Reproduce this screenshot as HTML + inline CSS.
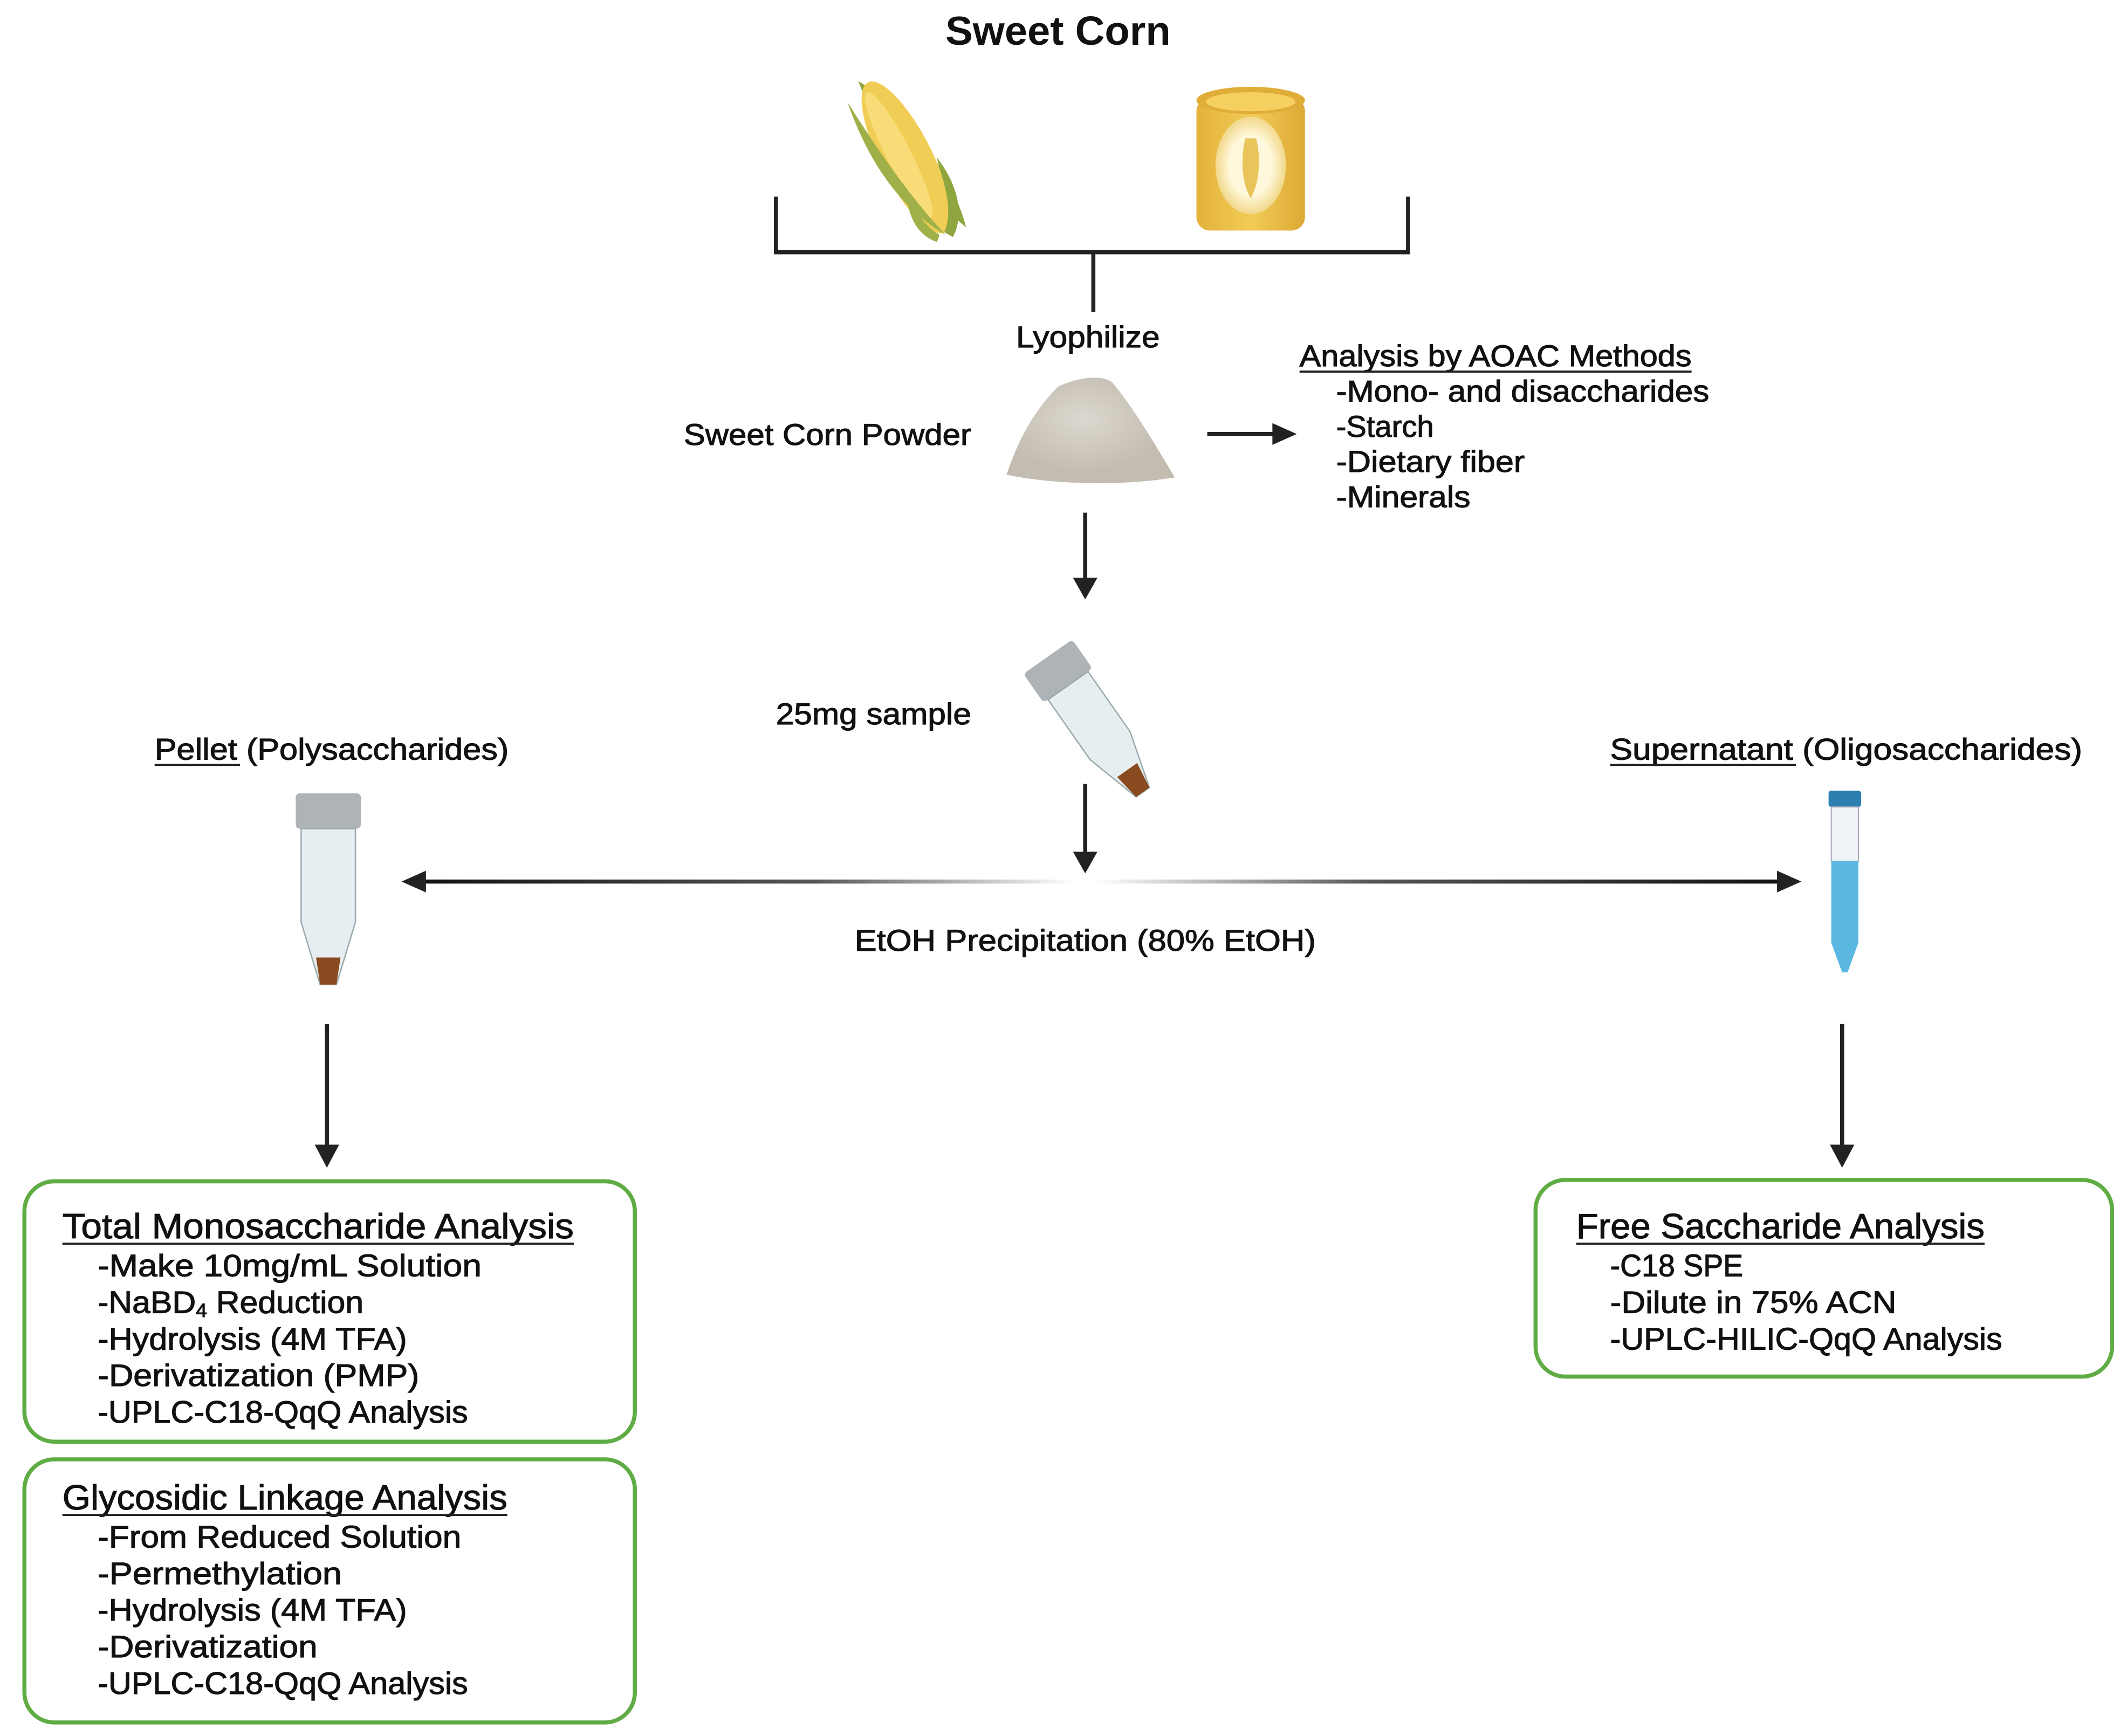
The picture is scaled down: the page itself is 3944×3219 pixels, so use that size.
<!DOCTYPE html>
<html><head><meta charset="utf-8"><style>
html,body{margin:0;padding:0;background:#fff;}
svg{display:block;}
text{font-family:"Liberation Sans",sans-serif;fill:#111;stroke:#111;stroke-width:0.45;}
</style></head><body>
<svg width="3944" height="3219" viewBox="0 0 1568 1280" preserveAspectRatio="none" xmlns="http://www.w3.org/2000/svg">
<defs>
<linearGradient id="gl" x1="0" x2="1" y1="0" y2="0"><stop offset="0" stop-color="#111"/><stop offset="0.6" stop-color="#555"/><stop offset="1" stop-color="#fff"/></linearGradient>
<linearGradient id="gr" x1="0" x2="1" y1="0" y2="0"><stop offset="0" stop-color="#fff"/><stop offset="0.4" stop-color="#555"/><stop offset="1" stop-color="#111"/></linearGradient>
<linearGradient id="can" x1="0" x2="1"><stop offset="0" stop-color="#e3b23a"/><stop offset="0.5" stop-color="#f2cb55"/><stop offset="1" stop-color="#dca935"/></linearGradient>
<radialGradient id="lab"><stop offset="0.6" stop-color="#fff8dc"/><stop offset="1" stop-color="#f1d88a"/></radialGradient>
<radialGradient id="pw" cx="0.45" cy="0.4"><stop offset="0" stop-color="#ddd8cf"/><stop offset="1" stop-color="#c2bcb1"/></radialGradient>
</defs>

<text x="780" y="33" font-size="30" font-weight="bold" text-anchor="middle" textLength="166" lengthAdjust="spacingAndGlyphs" style="stroke-width:0">Sweet Corn</text>

<!-- corn -->
<g transform="translate(668,116) rotate(-27)">
<path d="M-6,-66 C12,-40 26,20 16,66 C4,40 -12,-10 -6,-66Z" fill="#8fa640"/>
<ellipse cx="0" cy="0" rx="19" ry="62" fill="#f0cd55"/>
<ellipse cx="-4" cy="-4" rx="9" ry="52" fill="#f7dc78"/>
<path d="M-20,-56 C-28,0 -16,40 0,64 C-10,30 -16,-10 -20,-56Z" fill="#9fb048"/>
<path d="M-10,20 C-20,40 -18,56 -8,66 L-4,62 C-12,50 -12,36 -10,20Z" fill="#9fb048"/>
<path d="M20,10 C26,40 16,60 4,68 L0,62 C14,50 16,30 20,10Z" fill="#8fa640"/>
</g>
<!-- can -->
<rect x="882" y="72" width="80" height="98" rx="10" fill="url(#can)"/>
<ellipse cx="922" cy="74" rx="40" ry="10" fill="#e0ad38"/>
<ellipse cx="922" cy="75" rx="33" ry="7" fill="#f5d060"/>
<ellipse cx="922" cy="122" rx="26" ry="36" fill="url(#lab)"/>
<path d="M918,102 C914,120 916,136 922,146 C928,136 930,118 926,102Z" fill="#e8c45a"/>

<!-- bracket -->
<path d="M572,145 V186 H1038 V145 M806,186 V230" fill="none" stroke="#222" stroke-width="3"/>
<text x="802" y="256" font-size="22" text-anchor="middle" textLength="106" lengthAdjust="spacingAndGlyphs">Lyophilize</text>

<!-- powder -->
<path d="M742,350 C752,320 765,300 780,285 C795,278 812,276 820,282 C835,300 850,325 866,352 C830,358 780,358 742,350Z" fill="url(#pw)"/>
<text x="716" y="328" font-size="22" text-anchor="end" textLength="212" lengthAdjust="spacingAndGlyphs">Sweet Corn Powder</text>
<line x1="890" y1="320" x2="940" y2="320" stroke="#222" stroke-width="3"/>
<path d="M938,312 L956,320 L938,328Z" fill="#222"/>

<text x="958" y="270" font-size="22" textLength="289" lengthAdjust="spacingAndGlyphs">Analysis by AOAC Methods</text>
<line x1="958" y1="274" x2="1247" y2="274" stroke="#222" stroke-width="1.5"/>
<text x="985" y="296" font-size="22" textLength="275" lengthAdjust="spacingAndGlyphs">-Mono- and disaccharides</text>
<text x="985" y="322" font-size="22" textLength="72" lengthAdjust="spacingAndGlyphs">-Starch</text>
<text x="985" y="348" font-size="22" textLength="139" lengthAdjust="spacingAndGlyphs">-Dietary fiber</text>
<text x="985" y="374" font-size="22" textLength="99" lengthAdjust="spacingAndGlyphs">-Minerals</text>

<line x1="800" y1="378" x2="800" y2="428" stroke="#222" stroke-width="3"/>
<path d="M791,426 L800,442 L809,426Z" fill="#222"/>

<text x="572" y="534" font-size="22" textLength="144" lengthAdjust="spacingAndGlyphs">25mg sample</text>
<!-- tilted tube -->
<g transform="translate(808,535) rotate(-35)">
<rect x="-22" y="-62" width="44" height="26" rx="3" fill="#aeb3b8"/>
<path d="M-18,-36 H18 V18 L6,60 H-6 L-18,18Z" fill="#e6eef2" stroke="#9aa" stroke-width="1"/>
<path d="M-9,40 L9,40 L6,60 H-6Z" fill="#8a4a20"/>
</g>

<line x1="800" y1="578" x2="800" y2="630" stroke="#222" stroke-width="3"/>
<path d="M791,628 L800,644 L809,628Z" fill="#222"/>

<!-- horizontal double arrow -->
<rect x="312" y="648.5" width="480" height="3" fill="url(#gl)"/>
<rect x="808" y="648.5" width="506" height="3" fill="url(#gr)"/>
<path d="M314,642 L296,650 L314,658Z" fill="#222"/>
<path d="M1310,642 L1328,650 L1310,658Z" fill="#222"/>
<text x="800" y="701" font-size="22" text-anchor="middle" textLength="340" lengthAdjust="spacingAndGlyphs">EtOH Precipitation (80% EtOH)</text>

<text x="114" y="560" font-size="22" textLength="261" lengthAdjust="spacingAndGlyphs">Pellet (Polysaccharides)</text>
<line x1="114" y1="564" x2="177" y2="564" stroke="#222" stroke-width="1.5"/>
<text x="1187" y="560" font-size="22" textLength="348" lengthAdjust="spacingAndGlyphs">Supernatant (Oligosaccharides)</text>
<line x1="1187" y1="564" x2="1324" y2="564" stroke="#222" stroke-width="1.5"/>

<!-- left tube -->
<rect x="218" y="585" width="48" height="26" rx="3" fill="#aeb3b8"/>
<path d="M222,611 H262 V680 L248,726 H236 L222,680Z" fill="#e6eef2" stroke="#9aa" stroke-width="1"/>
<path d="M233,706 H251 L248,726 H236Z" fill="#8a4a20"/>
<!-- right tube -->
<rect x="1348" y="583" width="24" height="12" rx="2" fill="#2a7fb0"/>
<rect x="1350" y="595" width="20" height="40" fill="#eef3f5" stroke="#aab" stroke-width="0.8"/>
<path d="M1350,635 H1370 V695 L1362,717 H1358 L1350,695Z" fill="#5ab7e2"/>

<line x1="241" y1="755" x2="241" y2="846" stroke="#222" stroke-width="3"/>
<path d="M232,844 L241,861 L250,844Z" fill="#222"/>
<line x1="1358" y1="755" x2="1358" y2="846" stroke="#222" stroke-width="3"/>
<path d="M1349,844 L1358,861 L1367,844Z" fill="#222"/>

<!-- box 1 -->
<rect x="18" y="871" width="450" height="192" rx="22" fill="#fff" stroke="#5fac44" stroke-width="3"/>
<text x="46" y="913" font-size="26" textLength="377" lengthAdjust="spacingAndGlyphs">Total Monosaccharide Analysis</text>
<line x1="46" y1="917" x2="423" y2="917" stroke="#222" stroke-width="1.5"/>
<g font-size="23">
<text x="72" y="941" textLength="283" lengthAdjust="spacingAndGlyphs">-Make 10mg/mL Solution</text>
<text x="72" y="968" textLength="196" lengthAdjust="spacingAndGlyphs">-NaBD<tspan font-size="14" dy="3">4</tspan><tspan dy="-3"> Reduction</tspan></text>
<text x="72" y="995" textLength="228" lengthAdjust="spacingAndGlyphs">-Hydrolysis (4M TFA)</text>
<text x="72" y="1022" textLength="237" lengthAdjust="spacingAndGlyphs">-Derivatization (PMP)</text>
<text x="72" y="1049" textLength="273" lengthAdjust="spacingAndGlyphs">-UPLC-C18-QqQ Analysis</text>
</g>

<!-- box 2 -->
<rect x="18" y="1076" width="450" height="194" rx="22" fill="#fff" stroke="#5fac44" stroke-width="3"/>
<text x="46" y="1113" font-size="26" textLength="328" lengthAdjust="spacingAndGlyphs">Glycosidic Linkage Analysis</text>
<line x1="46" y1="1117" x2="374" y2="1117" stroke="#222" stroke-width="1.5"/>
<g font-size="23">
<text x="72" y="1141" textLength="268" lengthAdjust="spacingAndGlyphs">-From Reduced Solution</text>
<text x="72" y="1168" textLength="180" lengthAdjust="spacingAndGlyphs">-Permethylation</text>
<text x="72" y="1195" textLength="228" lengthAdjust="spacingAndGlyphs">-Hydrolysis (4M TFA)</text>
<text x="72" y="1222" textLength="162" lengthAdjust="spacingAndGlyphs">-Derivatization</text>
<text x="72" y="1249" textLength="273" lengthAdjust="spacingAndGlyphs">-UPLC-C18-QqQ Analysis</text>
</g>

<!-- box 3 -->
<rect x="1132" y="870" width="425" height="145" rx="22" fill="#fff" stroke="#5fac44" stroke-width="3"/>
<text x="1162" y="913" font-size="26" textLength="301" lengthAdjust="spacingAndGlyphs">Free Saccharide Analysis</text>
<line x1="1162" y1="917" x2="1463" y2="917" stroke="#222" stroke-width="1.5"/>
<g font-size="23">
<text x="1187" y="941" textLength="98" lengthAdjust="spacingAndGlyphs">-C18 SPE</text>
<text x="1187" y="968" textLength="211" lengthAdjust="spacingAndGlyphs">-Dilute in 75% ACN</text>
<text x="1187" y="995" textLength="289" lengthAdjust="spacingAndGlyphs">-UPLC-HILIC-QqQ Analysis</text>
</g>
</svg>
</body></html>
